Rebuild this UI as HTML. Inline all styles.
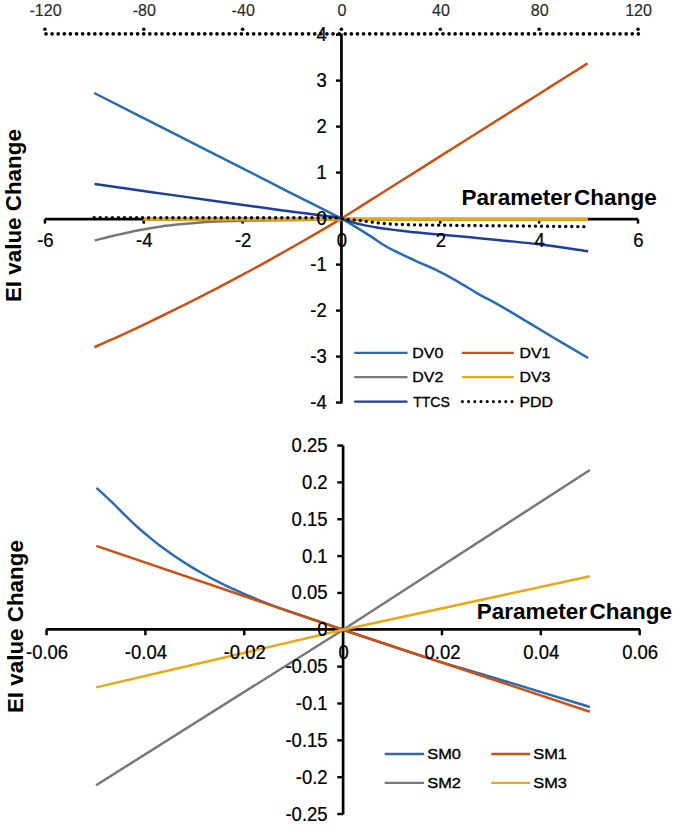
<!DOCTYPE html>
<html><head><meta charset="utf-8"><style>
html,body{margin:0;padding:0;background:#fff;}
svg{display:block;}
text{font-family:"Liberation Sans",sans-serif;}
</style></head><body>
<svg width="675" height="826" viewBox="0 0 675 826">
<rect width="675" height="826" fill="#fff"/>
<line x1="44.93" y1="219.20" x2="637.97" y2="219.20" stroke="#000" stroke-width="2.8" />
<line x1="44.93" y1="219.20" x2="44.93" y2="223.60" stroke="#000" stroke-width="2.5" />
<line x1="143.77" y1="219.20" x2="143.77" y2="223.60" stroke="#000" stroke-width="2.5" />
<line x1="242.61" y1="219.20" x2="242.61" y2="223.60" stroke="#000" stroke-width="2.5" />
<line x1="440.29" y1="219.20" x2="440.29" y2="223.60" stroke="#000" stroke-width="2.5" />
<line x1="539.13" y1="219.20" x2="539.13" y2="223.60" stroke="#000" stroke-width="2.5" />
<line x1="637.97" y1="219.20" x2="637.97" y2="223.60" stroke="#000" stroke-width="2.5" />
<line x1="341.45" y1="33.80" x2="341.45" y2="403.50" stroke="#000" stroke-width="2.7" />
<line x1="336.00" y1="402.60" x2="341.45" y2="402.60" stroke="#000" stroke-width="2.4" />
<line x1="336.00" y1="356.60" x2="341.45" y2="356.60" stroke="#000" stroke-width="2.4" />
<line x1="336.00" y1="310.60" x2="341.45" y2="310.60" stroke="#000" stroke-width="2.4" />
<line x1="336.00" y1="264.60" x2="341.45" y2="264.60" stroke="#000" stroke-width="2.4" />
<line x1="336.00" y1="218.60" x2="341.45" y2="218.60" stroke="#000" stroke-width="2.4" />
<line x1="336.00" y1="172.60" x2="341.45" y2="172.60" stroke="#000" stroke-width="2.4" />
<line x1="336.00" y1="126.60" x2="341.45" y2="126.60" stroke="#000" stroke-width="2.4" />
<line x1="336.00" y1="80.60" x2="341.45" y2="80.60" stroke="#000" stroke-width="2.4" />
<line x1="336.00" y1="34.60" x2="341.45" y2="34.60" stroke="#000" stroke-width="2.4" />
<line x1="46.0" y1="33.8" x2="638.4" y2="33.8" stroke="#000" stroke-width="3.7" stroke-dasharray="0 6.107" stroke-linecap="round"/>
<circle cx="44.9" cy="29.2" r="1.8" fill="#000"/>
<circle cx="143.8" cy="29.2" r="1.8" fill="#000"/>
<circle cx="242.6" cy="29.2" r="1.8" fill="#000"/>
<circle cx="341.4" cy="29.2" r="1.8" fill="#000"/>
<circle cx="440.3" cy="29.2" r="1.8" fill="#000"/>
<circle cx="539.1" cy="29.2" r="1.8" fill="#000"/>
<circle cx="638.0" cy="29.2" r="1.8" fill="#000"/>
<path d="M94.20,93.00 C116.13,104.13 138.07,115.26 160.00,126.40 C180.00,136.56 200.00,146.73 220.00,156.90 C244.70,169.46 269.39,182.05 294.10,194.60 C309.88,202.61 325.80,210.36 341.45,218.60 C346.70,221.36 351.73,224.52 356.80,227.60 C361.78,230.62 366.70,233.74 371.60,236.90 C376.10,239.81 380.44,242.99 385.00,245.80 C387.91,247.59 390.96,249.15 394.00,250.70 C396.89,252.18 399.86,253.52 402.80,254.90 C405.76,256.29 408.73,257.63 411.70,259.00 C414.67,260.37 417.62,261.77 420.60,263.10 C425.38,265.24 430.30,267.10 435.00,269.40 C442.00,272.83 448.91,276.47 455.70,280.30 C462.74,284.27 469.48,288.79 476.50,292.80 C484.24,297.22 492.26,301.17 500.00,305.60 C508.99,310.74 517.81,316.18 526.70,321.50 C535.58,326.81 544.40,332.22 553.30,337.50 C564.90,344.39 576.57,351.17 588.20,358.00" fill="none" stroke="#2A6BB5" stroke-width="2.5" stroke-linejoin="round" />
<path d="M94.40,347.25 C101.26,344.17 108.13,341.13 114.98,338.02 C121.85,334.89 128.71,331.72 135.55,328.52 C142.43,325.30 149.28,322.04 156.12,318.75 C163.00,315.44 169.86,312.09 176.70,308.71 C183.58,305.31 190.43,301.87 197.28,298.40 C204.15,294.90 211.01,291.37 217.85,287.81 C224.73,284.23 231.59,280.61 238.43,276.95 C245.30,273.28 252.16,269.57 259.00,265.83 C265.88,262.06 272.74,258.26 279.57,254.43 C286.45,250.57 293.31,246.68 300.15,242.76 C307.03,238.81 313.89,234.83 320.73,230.81 C327.60,226.78 334.50,222.76 341.30,218.60 C348.20,214.38 354.98,209.98 361.82,205.66 C368.67,201.35 375.51,197.04 382.35,192.73 C389.19,188.41 396.03,184.10 402.88,179.79 C409.72,175.48 416.56,171.16 423.40,166.85 C430.24,162.54 437.08,158.23 443.93,153.92 C450.77,149.60 457.61,145.29 464.45,140.98 C471.29,136.67 478.13,132.35 484.98,128.04 C491.82,123.73 498.66,119.42 505.50,115.10 C512.34,110.79 519.18,106.48 526.03,102.17 C532.87,97.86 539.71,93.54 546.55,89.23 C553.39,84.92 560.23,80.61 567.08,76.29 C573.92,71.98 580.76,67.67 587.60,63.36" fill="none" stroke="#CD5012" stroke-width="2.5" stroke-linejoin="round" />
<path d="M94.70,240.40 C101.03,238.83 107.35,237.19 113.70,235.70 C121.58,233.85 129.46,231.96 137.40,230.40 C145.26,228.86 153.18,227.56 161.10,226.40 C166.34,225.63 171.63,225.17 176.90,224.60 C180.83,224.17 184.76,223.77 188.70,223.40 C192.66,223.03 196.63,222.68 200.60,222.40 C204.53,222.12 208.46,221.90 212.40,221.70 C216.36,221.50 220.33,221.33 224.30,221.20 C228.23,221.07 232.17,220.99 236.10,220.90 C244.07,220.72 252.03,220.51 260.00,220.40 C273.33,220.21 286.67,220.13 300.00,220.00 C313.82,219.86 327.63,219.63 341.45,219.60 C423.63,219.43 505.82,219.47 588.00,219.40" fill="none" stroke="#787878" stroke-width="2.5" stroke-linejoin="round" />
<polyline points="143.0,219.2 588.0,219.2" fill="none" stroke="#EBA813" stroke-width="3.0" stroke-linejoin="round" stroke-linecap="butt" />
<path d="M94.60,184.00 C113.07,186.63 131.53,189.29 150.00,191.90 C173.33,195.19 196.66,198.45 220.00,201.70 C238.53,204.28 257.06,206.88 275.60,209.40 C287.93,211.08 300.26,212.70 312.60,214.30 C318.76,215.10 324.96,215.68 331.10,216.60 C334.57,217.12 338.06,217.70 341.45,218.60 C344.99,219.54 348.38,221.07 351.90,222.10 C355.79,223.24 359.74,224.25 363.70,225.10 C367.64,225.95 371.63,226.55 375.60,227.20 C379.53,227.85 383.46,228.44 387.40,229.00 C391.36,229.57 395.33,230.10 399.30,230.60 C403.23,231.10 407.16,231.58 411.10,232.00 C414.06,232.31 417.03,232.54 420.00,232.80 C428.20,233.51 436.40,234.16 444.60,234.90 C454.50,235.79 464.40,236.75 474.30,237.70 C482.87,238.52 491.44,239.34 500.00,240.20 C513.60,241.57 527.24,242.71 540.80,244.40 C556.64,246.38 572.40,248.93 588.20,251.20" fill="none" stroke="#1C3E9C" stroke-width="2.5" stroke-linejoin="round" />
<path d="M94.20,217.70 C175.28,217.77 256.39,217.60 337.45,217.90 C338.80,217.90 340.11,218.40 341.45,218.60 C342.79,218.80 344.15,218.96 345.50,219.10 C347.66,219.33 349.83,219.49 352.00,219.70 C353.97,219.89 355.94,220.08 357.90,220.30 C359.87,220.52 361.84,220.75 363.80,221.00 C365.77,221.25 367.73,221.54 369.70,221.80 C371.80,222.08 373.90,222.34 376.00,222.60 C377.97,222.84 379.93,223.10 381.90,223.30 C383.86,223.50 385.83,223.65 387.80,223.80 C389.77,223.95 391.73,224.09 393.70,224.20 C395.80,224.32 397.90,224.43 400.00,224.50 C404.00,224.63 408.00,224.74 412.00,224.80 C424.67,225.00 437.33,225.16 450.00,225.30 C466.67,225.49 483.33,225.63 500.00,225.80 C529.33,226.10 558.67,226.40 588.00,226.70" fill="none" stroke="#000" stroke-width="3.4" stroke-linejoin="round" stroke-dasharray="0 6.05" stroke-linecap="round"/>
<text transform="translate(45.53,15.50) scale(0.9700,1)" font-size="16.6" text-anchor="middle" font-weight="normal" fill="#2a2a2a" stroke="#2a2a2a" stroke-width="0.15">-120</text>
<text transform="translate(144.37,15.50) scale(0.9700,1)" font-size="16.6" text-anchor="middle" font-weight="normal" fill="#2a2a2a" stroke="#2a2a2a" stroke-width="0.15">-80</text>
<text transform="translate(243.21,15.50) scale(0.9700,1)" font-size="16.6" text-anchor="middle" font-weight="normal" fill="#2a2a2a" stroke="#2a2a2a" stroke-width="0.15">-40</text>
<text transform="translate(342.05,15.50) scale(0.9700,1)" font-size="16.6" text-anchor="middle" font-weight="normal" fill="#2a2a2a" stroke="#2a2a2a" stroke-width="0.15">0</text>
<text transform="translate(440.89,15.50) scale(0.9700,1)" font-size="16.6" text-anchor="middle" font-weight="normal" fill="#2a2a2a" stroke="#2a2a2a" stroke-width="0.15">40</text>
<text transform="translate(539.73,15.50) scale(0.9700,1)" font-size="16.6" text-anchor="middle" font-weight="normal" fill="#2a2a2a" stroke="#2a2a2a" stroke-width="0.15">80</text>
<text transform="translate(638.57,15.50) scale(0.9700,1)" font-size="16.6" text-anchor="middle" font-weight="normal" fill="#2a2a2a" stroke="#2a2a2a" stroke-width="0.15">120</text>
<text transform="translate(326.80,409.10) scale(0.9250,1)" font-size="20.0" text-anchor="end" font-weight="normal" fill="#000" stroke="#000" stroke-width="0.25">-4</text>
<text transform="translate(326.80,363.10) scale(0.9250,1)" font-size="20.0" text-anchor="end" font-weight="normal" fill="#000" stroke="#000" stroke-width="0.25">-3</text>
<text transform="translate(326.80,317.10) scale(0.9250,1)" font-size="20.0" text-anchor="end" font-weight="normal" fill="#000" stroke="#000" stroke-width="0.25">-2</text>
<text transform="translate(326.80,271.10) scale(0.9250,1)" font-size="20.0" text-anchor="end" font-weight="normal" fill="#000" stroke="#000" stroke-width="0.25">-1</text>
<text transform="translate(326.80,225.10) scale(0.9250,1)" font-size="20.0" text-anchor="end" font-weight="normal" fill="#000" stroke="#000" stroke-width="0.25">0</text>
<text transform="translate(326.80,179.10) scale(0.9250,1)" font-size="20.0" text-anchor="end" font-weight="normal" fill="#000" stroke="#000" stroke-width="0.25">1</text>
<text transform="translate(326.80,133.10) scale(0.9250,1)" font-size="20.0" text-anchor="end" font-weight="normal" fill="#000" stroke="#000" stroke-width="0.25">2</text>
<text transform="translate(326.80,87.10) scale(0.9250,1)" font-size="20.0" text-anchor="end" font-weight="normal" fill="#000" stroke="#000" stroke-width="0.25">3</text>
<text transform="translate(326.80,41.10) scale(0.9250,1)" font-size="20.0" text-anchor="end" font-weight="normal" fill="#000" stroke="#000" stroke-width="0.25">4</text>
<text transform="translate(45.43,246.60) scale(0.9250,1)" font-size="20.0" text-anchor="middle" font-weight="normal" fill="#000" stroke="#000" stroke-width="0.25">-6</text>
<text transform="translate(144.27,246.60) scale(0.9250,1)" font-size="20.0" text-anchor="middle" font-weight="normal" fill="#000" stroke="#000" stroke-width="0.25">-4</text>
<text transform="translate(243.11,246.60) scale(0.9250,1)" font-size="20.0" text-anchor="middle" font-weight="normal" fill="#000" stroke="#000" stroke-width="0.25">-2</text>
<text transform="translate(341.95,246.60) scale(0.9250,1)" font-size="20.0" text-anchor="middle" font-weight="normal" fill="#000" stroke="#000" stroke-width="0.25">0</text>
<text transform="translate(440.79,246.60) scale(0.9250,1)" font-size="20.0" text-anchor="middle" font-weight="normal" fill="#000" stroke="#000" stroke-width="0.25">2</text>
<text transform="translate(539.63,246.60) scale(0.9250,1)" font-size="20.0" text-anchor="middle" font-weight="normal" fill="#000" stroke="#000" stroke-width="0.25">4</text>
<text transform="translate(638.47,246.60) scale(0.9250,1)" font-size="20.0" text-anchor="middle" font-weight="normal" fill="#000" stroke="#000" stroke-width="0.25">6</text>
<text transform="translate(461.40,205.40) scale(1.0580,1)" font-size="21.3" text-anchor="start" font-weight="bold" fill="#000" word-spacing="-3.5">Parameter Change</text>
<text transform="translate(20.90,215.60) rotate(-90)" font-size="22.4" text-anchor="middle" font-weight="bold" fill="#000" >EI value Change</text>
<line x1="354.20" y1="352.90" x2="407.50" y2="352.90" stroke="#2A6BB5" stroke-width="2.3" />
<text transform="translate(412.30,357.90) scale(1.0400,1)" font-size="15.3" text-anchor="start" font-weight="normal" fill="#000" stroke="#000" stroke-width="0.35">DV0</text>
<line x1="461.90" y1="352.90" x2="514.00" y2="352.90" stroke="#CD5012" stroke-width="2.3" />
<text transform="translate(519.40,357.90) scale(1.0400,1)" font-size="15.3" text-anchor="start" font-weight="normal" fill="#000" stroke="#000" stroke-width="0.35">DV1</text>
<line x1="354.20" y1="377.20" x2="407.50" y2="377.20" stroke="#787878" stroke-width="2.3" />
<text transform="translate(412.30,382.20) scale(1.0400,1)" font-size="15.3" text-anchor="start" font-weight="normal" fill="#000" stroke="#000" stroke-width="0.35">DV2</text>
<line x1="461.90" y1="377.20" x2="514.00" y2="377.20" stroke="#EBA813" stroke-width="2.3" />
<text transform="translate(519.40,382.20) scale(1.0400,1)" font-size="15.3" text-anchor="start" font-weight="normal" fill="#000" stroke="#000" stroke-width="0.35">DV3</text>
<line x1="354.20" y1="401.60" x2="407.50" y2="401.60" stroke="#1C3E9C" stroke-width="2.3" />
<text transform="translate(413.20,406.60) scale(0.9150,1)" font-size="15.3" text-anchor="start" font-weight="normal" fill="#000" stroke="#000" stroke-width="0.35">TTCS</text>
<line x1="462.4" y1="401.6" x2="514.0" y2="401.6" stroke="#000" stroke-width="3.1" stroke-dasharray="0 6.2" stroke-linecap="round"/>
<text transform="translate(519.40,406.60) scale(1.0400,1)" font-size="15.3" text-anchor="start" font-weight="normal" fill="#000" stroke="#000" stroke-width="0.35">PDD</text>
<line x1="46.25" y1="629.40" x2="639.95" y2="629.40" stroke="#000" stroke-width="2.8" />
<line x1="46.55" y1="629.40" x2="46.55" y2="635.30" stroke="#000" stroke-width="2.5" />
<line x1="145.40" y1="629.40" x2="145.40" y2="635.30" stroke="#000" stroke-width="2.5" />
<line x1="244.25" y1="629.40" x2="244.25" y2="635.30" stroke="#000" stroke-width="2.5" />
<line x1="441.95" y1="629.40" x2="441.95" y2="635.30" stroke="#000" stroke-width="2.5" />
<line x1="540.80" y1="629.40" x2="540.80" y2="635.30" stroke="#000" stroke-width="2.5" />
<line x1="639.65" y1="629.40" x2="639.65" y2="635.30" stroke="#000" stroke-width="2.5" />
<line x1="343.10" y1="445.50" x2="343.10" y2="814.50" stroke="#000" stroke-width="2.7" />
<line x1="337.30" y1="814.05" x2="343.10" y2="814.05" stroke="#000" stroke-width="2.4" />
<line x1="337.30" y1="777.20" x2="343.10" y2="777.20" stroke="#000" stroke-width="2.4" />
<line x1="337.30" y1="740.35" x2="343.10" y2="740.35" stroke="#000" stroke-width="2.4" />
<line x1="337.30" y1="703.50" x2="343.10" y2="703.50" stroke="#000" stroke-width="2.4" />
<line x1="337.30" y1="666.65" x2="343.10" y2="666.65" stroke="#000" stroke-width="2.4" />
<line x1="337.30" y1="629.80" x2="343.10" y2="629.80" stroke="#000" stroke-width="2.4" />
<line x1="337.30" y1="592.95" x2="343.10" y2="592.95" stroke="#000" stroke-width="2.4" />
<line x1="337.30" y1="556.10" x2="343.10" y2="556.10" stroke="#000" stroke-width="2.4" />
<line x1="337.30" y1="519.25" x2="343.10" y2="519.25" stroke="#000" stroke-width="2.4" />
<line x1="337.30" y1="482.40" x2="343.10" y2="482.40" stroke="#000" stroke-width="2.4" />
<line x1="337.30" y1="445.55" x2="343.10" y2="445.55" stroke="#000" stroke-width="2.4" />
<path d="M96.50,487.90 C102.23,493.23 108.05,498.48 113.70,503.90 C117.75,507.78 121.58,511.88 125.60,515.80 C129.48,519.58 133.37,523.38 137.40,527.00 C141.27,530.48 145.29,533.78 149.30,537.10 C153.19,540.32 157.07,543.56 161.10,546.60 C165.57,549.96 170.17,553.16 174.80,556.30 C179.67,559.60 184.59,562.82 189.60,565.90 C194.46,568.89 199.41,571.73 204.40,574.50 C209.31,577.23 214.28,579.88 219.30,582.40 C224.18,584.85 229.14,587.14 234.10,589.40 C239.00,591.64 243.95,593.76 248.90,595.90 C252.59,597.49 256.27,599.10 260.00,600.60 C264.97,602.60 269.97,604.55 275.00,606.40 C279.97,608.22 285.00,609.87 290.00,611.60 C296.67,613.90 303.33,616.21 310.00,618.50 C321.03,622.28 332.07,626.03 343.10,629.80 C355.40,634.00 367.68,638.27 380.00,642.40 C393.31,646.87 406.62,651.35 420.00,655.60 C433.29,659.82 446.65,663.79 460.00,667.80 C479.98,673.79 500.03,679.57 520.00,685.60 C543.33,692.64 566.60,699.87 589.90,707.00" fill="none" stroke="#2A6BB5" stroke-width="2.5" stroke-linejoin="round" />
<polyline points="96.3,545.9 343.1,629.8 589.9,711.7" fill="none" stroke="#CD5012" stroke-width="2.5" stroke-linejoin="round" stroke-linecap="butt" />
<polyline points="96.1,785.2 343.1,629.8 589.9,470.0" fill="none" stroke="#787878" stroke-width="2.5" stroke-linejoin="round" stroke-linecap="butt" />
<polyline points="96.1,687.4 343.1,629.8 589.9,576.3" fill="none" stroke="#EBA813" stroke-width="2.5" stroke-linejoin="round" stroke-linecap="butt" />
<text transform="translate(327.60,820.55) scale(0.9250,1)" font-size="20.0" text-anchor="end" font-weight="normal" fill="#000" stroke="#000" stroke-width="0.25">-0.25</text>
<text transform="translate(327.60,783.70) scale(0.9250,1)" font-size="20.0" text-anchor="end" font-weight="normal" fill="#000" stroke="#000" stroke-width="0.25">-0.2</text>
<text transform="translate(327.60,746.85) scale(0.9250,1)" font-size="20.0" text-anchor="end" font-weight="normal" fill="#000" stroke="#000" stroke-width="0.25">-0.15</text>
<text transform="translate(327.60,710.00) scale(0.9250,1)" font-size="20.0" text-anchor="end" font-weight="normal" fill="#000" stroke="#000" stroke-width="0.25">-0.1</text>
<text transform="translate(327.60,673.15) scale(0.9250,1)" font-size="20.0" text-anchor="end" font-weight="normal" fill="#000" stroke="#000" stroke-width="0.25">-0.05</text>
<text transform="translate(327.60,636.30) scale(0.9250,1)" font-size="20.0" text-anchor="end" font-weight="normal" fill="#000" stroke="#000" stroke-width="0.25">0</text>
<text transform="translate(327.60,599.45) scale(0.9250,1)" font-size="20.0" text-anchor="end" font-weight="normal" fill="#000" stroke="#000" stroke-width="0.25">0.05</text>
<text transform="translate(327.60,562.60) scale(0.9250,1)" font-size="20.0" text-anchor="end" font-weight="normal" fill="#000" stroke="#000" stroke-width="0.25">0.1</text>
<text transform="translate(327.60,525.75) scale(0.9250,1)" font-size="20.0" text-anchor="end" font-weight="normal" fill="#000" stroke="#000" stroke-width="0.25">0.15</text>
<text transform="translate(327.60,488.90) scale(0.9250,1)" font-size="20.0" text-anchor="end" font-weight="normal" fill="#000" stroke="#000" stroke-width="0.25">0.2</text>
<text transform="translate(327.60,452.05) scale(0.9250,1)" font-size="20.0" text-anchor="end" font-weight="normal" fill="#000" stroke="#000" stroke-width="0.25">0.25</text>
<text transform="translate(47.05,658.60) scale(0.9250,1)" font-size="20.0" text-anchor="middle" font-weight="normal" fill="#000" stroke="#000" stroke-width="0.25">-0.06</text>
<text transform="translate(145.90,658.60) scale(0.9250,1)" font-size="20.0" text-anchor="middle" font-weight="normal" fill="#000" stroke="#000" stroke-width="0.25">-0.04</text>
<text transform="translate(244.75,658.60) scale(0.9250,1)" font-size="20.0" text-anchor="middle" font-weight="normal" fill="#000" stroke="#000" stroke-width="0.25">-0.02</text>
<text transform="translate(343.60,658.60) scale(0.9250,1)" font-size="20.0" text-anchor="middle" font-weight="normal" fill="#000" stroke="#000" stroke-width="0.25">0</text>
<text transform="translate(442.45,658.60) scale(0.9250,1)" font-size="20.0" text-anchor="middle" font-weight="normal" fill="#000" stroke="#000" stroke-width="0.25">0.02</text>
<text transform="translate(541.30,658.60) scale(0.9250,1)" font-size="20.0" text-anchor="middle" font-weight="normal" fill="#000" stroke="#000" stroke-width="0.25">0.04</text>
<text transform="translate(640.15,658.60) scale(0.9250,1)" font-size="20.0" text-anchor="middle" font-weight="normal" fill="#000" stroke="#000" stroke-width="0.25">0.06</text>
<text transform="translate(476.80,619.20) scale(1.0580,1)" font-size="21.3" text-anchor="start" font-weight="bold" fill="#000" word-spacing="-3.5">Parameter Change</text>
<text transform="translate(22.50,626.60) rotate(-90)" font-size="22.4" text-anchor="middle" font-weight="bold" fill="#000" >EI value Change</text>
<line x1="384.70" y1="754.00" x2="424.00" y2="754.00" stroke="#2A6BB5" stroke-width="2.3" />
<text transform="translate(427.20,759.00) scale(1.0800,1)" font-size="15.2" text-anchor="start" font-weight="normal" fill="#000" stroke="#000" stroke-width="0.35">SM0</text>
<line x1="491.30" y1="754.00" x2="530.20" y2="754.00" stroke="#CD5012" stroke-width="2.3" />
<text transform="translate(533.20,759.00) scale(1.0800,1)" font-size="15.2" text-anchor="start" font-weight="normal" fill="#000" stroke="#000" stroke-width="0.35">SM1</text>
<line x1="384.70" y1="782.90" x2="424.00" y2="782.90" stroke="#787878" stroke-width="2.3" />
<text transform="translate(427.20,787.90) scale(1.0800,1)" font-size="15.2" text-anchor="start" font-weight="normal" fill="#000" stroke="#000" stroke-width="0.35">SM2</text>
<line x1="491.30" y1="782.90" x2="530.20" y2="782.90" stroke="#EBA813" stroke-width="2.3" />
<text transform="translate(533.20,787.90) scale(1.0800,1)" font-size="15.2" text-anchor="start" font-weight="normal" fill="#000" stroke="#000" stroke-width="0.35">SM3</text>
</svg>
</body></html>
